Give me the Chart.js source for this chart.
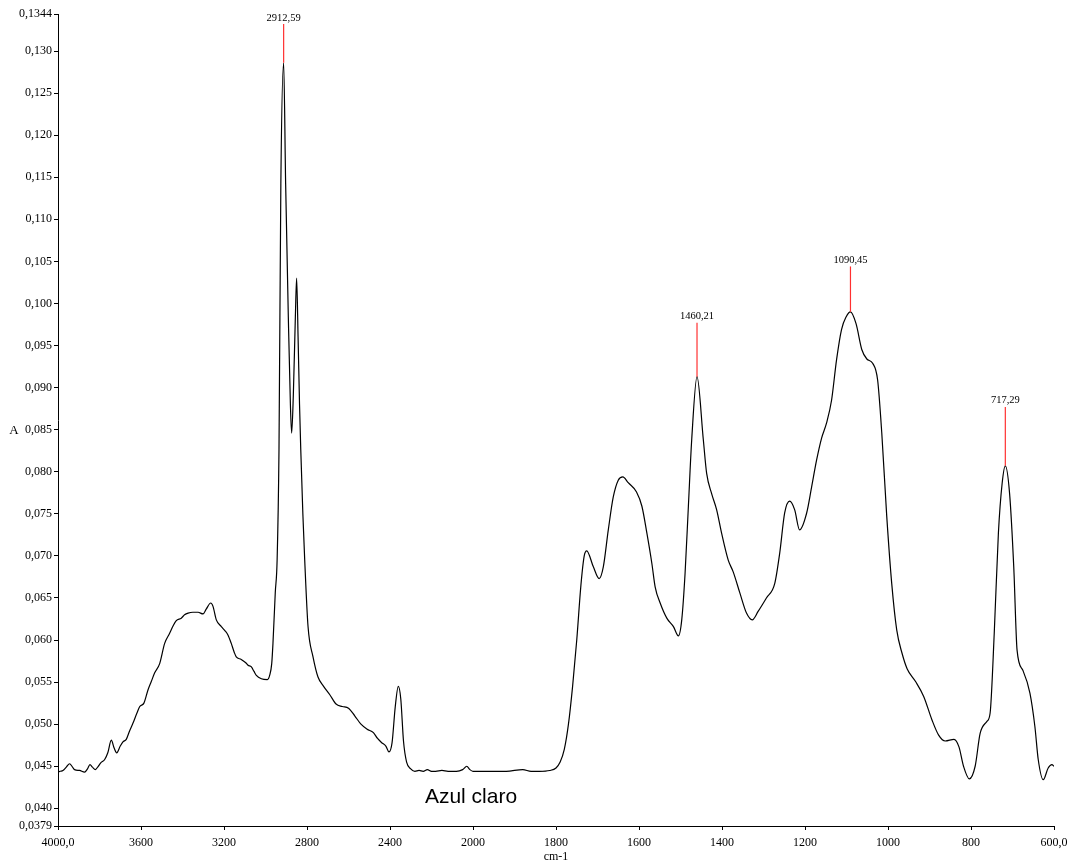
<!DOCTYPE html>
<html lang="pt">
<head>
<meta charset="UTF-8">
<title>Azul claro</title>
<script src="https://cdn.jsdelivr.net/npm/chart.js"></script>
<style>
  body { margin: 0; background: #fff; }
</style>
</head>
<body>
<canvas id="c" width="1076" height="866"></canvas>
<script>
// spectrum, wavenumber (cm-1) / absorbance
const wavenumbers = [
  4000, 3990, 3976, 3960, 3944, 3930, 3920, 3896, 3872, 3858, 3846, 3834, 3820, 3806, 3794, 3775,
  3760, 3743, 3730, 3717, 3700, 3687, 3671, 3655, 3639, 3620, 3606, 3586, 3566, 3550, 3534, 3510,
  3486, 3462, 3445, 3430, 3406, 3390, 3373, 3350, 3325, 3301, 3285, 3264, 3253, 3237, 3213, 3195,
  3181, 3165, 3150, 3141, 3117, 3095, 3084, 3068, 3056, 3044, 3020, 2991, 2980, 2970, 2964, 2953,
  2944, 2935, 2926, 2912.59, 2903, 2890, 2880, 2874, 2866, 2856, 2850, 2843, 2836, 2830, 2820, 2811,
  2795, 2771, 2747, 2720, 2690, 2660, 2630, 2600, 2570, 2540, 2510, 2480, 2460, 2440, 2420, 2405,
  2390, 2375, 2360, 2348, 2335, 2320, 2300, 2280, 2260, 2240, 2220, 2200, 2180, 2150, 2120, 2080,
  2050, 2030, 2015, 2000, 1960, 1920, 1880, 1860, 1840, 1815, 1800, 1790, 1780, 1770, 1760, 1750,
  1740, 1732, 1726, 1710, 1696, 1686, 1674, 1662, 1650, 1639, 1626, 1606, 1593, 1581, 1569, 1561,
  1549, 1533, 1517, 1505, 1497, 1489, 1481, 1473, 1460.21, 1445, 1437, 1425, 1413, 1401, 1385, 1373,
  1357, 1341, 1327, 1313, 1293, 1273, 1261, 1249, 1237, 1225, 1213, 1196, 1184, 1172, 1160, 1148,
  1136, 1124, 1112, 1101, 1090.45, 1077, 1063, 1051, 1037, 1025, 1015, 1003, 991, 979, 966, 954,
  934, 914, 894, 878, 862, 841, 829, 818, 804, 790, 778, 762, 754, 744, 734, 725,
  717.29, 707, 697, 689, 675, 658, 646, 638, 626, 614, 605, 600
];
const absorbance = [
  0.0443, 0.0444, 0.0445, 0.0449, 0.0453, 0.0449, 0.0446, 0.0445, 0.0443, 0.0447, 0.0452, 0.0449, 0.0446, 0.0450, 0.0454, 0.0458,
  0.0466, 0.0481, 0.0472, 0.0466, 0.0474, 0.0479, 0.0482, 0.0492, 0.0501, 0.0513, 0.0521, 0.0525, 0.0541, 0.0551, 0.0561, 0.0572,
  0.0596, 0.0608, 0.0617, 0.0623, 0.0626, 0.0630, 0.0632, 0.0633, 0.0633, 0.0631, 0.0637, 0.0644, 0.0640, 0.0624, 0.0616, 0.0611,
  0.0606, 0.0596, 0.0585, 0.0580, 0.0577, 0.0573, 0.0570, 0.0568, 0.0563, 0.0558, 0.0554, 0.0553, 0.0558, 0.0572, 0.0596, 0.0656,
  0.0695, 0.0826, 0.1143, 0.1286, 0.1143, 0.0984, 0.0880, 0.0846, 0.0890, 0.0985, 0.1030, 0.0960, 0.0880, 0.0826, 0.0750, 0.0695,
  0.0616, 0.0580, 0.0556, 0.0545, 0.0535, 0.0524, 0.0521, 0.0519, 0.0510, 0.0500, 0.0494, 0.0490, 0.0483, 0.0478, 0.0474, 0.0467,
  0.0478, 0.0520, 0.0545, 0.0530, 0.0480, 0.0455, 0.0447, 0.0444, 0.0445, 0.0444, 0.0446, 0.0444, 0.0444, 0.0445, 0.0444, 0.0444,
  0.0446, 0.0450, 0.0446, 0.0444, 0.0444, 0.0444, 0.0446, 0.0444, 0.0444, 0.0445, 0.0448, 0.0455, 0.0470, 0.0500, 0.0545, 0.0600,
  0.0665, 0.0700, 0.0706, 0.0687, 0.0673, 0.0687, 0.0731, 0.0770, 0.0790, 0.0794, 0.0787, 0.0776, 0.0759, 0.0727, 0.0691, 0.0663,
  0.0644, 0.0626, 0.0616, 0.0605, 0.0624, 0.0679, 0.0759, 0.0838, 0.0913, 0.0838, 0.0798, 0.0774, 0.0755, 0.0727, 0.0695, 0.0681,
  0.0656, 0.0632, 0.0624, 0.0634, 0.0650, 0.0667, 0.0703, 0.0751, 0.0765, 0.0755, 0.0731, 0.0751, 0.0782, 0.0814, 0.0840, 0.0858,
  0.0885, 0.0933, 0.0969, 0.0984, 0.0990, 0.0976, 0.0945, 0.0934, 0.0929, 0.0909, 0.0846, 0.0747, 0.0667, 0.0612, 0.0584, 0.0566,
  0.0551, 0.0533, 0.0505, 0.0487, 0.0480, 0.0482, 0.0473, 0.0450, 0.0435, 0.0450, 0.0489, 0.0503, 0.0513, 0.0608, 0.0727, 0.0786,
  0.0807, 0.0774, 0.0687, 0.0588, 0.0564, 0.0537, 0.0497, 0.0458, 0.0434, 0.0448, 0.0452, 0.0450
];

// labelled peaks and the absorbance at which each marker line ends
const peakX = [2912.59, 1460.21, 1090.45, 717.29];
const peakLabels = ['2912,59', '1460,21', '1090,45', '717,29'];
const peakTop = [0.1332, 0.0977, 0.1044, 0.0877];

const xTicks = [4000, 3600, 3200, 2800, 2400, 2000, 1800, 1600, 1400, 1200, 1000, 800, 600];
const xTickLabels = ['4000,0', '3600', '3200', '2800', '2400', '2000', '1800', '1600', '1400', '1200', '1000', '800', '600,0'];
const yTicks = [0.1344, 0.130, 0.125, 0.120, 0.115, 0.110, 0.105, 0.100, 0.095, 0.090, 0.085, 0.080,
  0.075, 0.070, 0.065, 0.060, 0.055, 0.050, 0.045, 0.040, 0.0379];
const yTickLabels = ['0,1344', '0,130', '0,125', '0,120', '0,115', '0,110', '0,105', '0,100', '0,095', '0,090',
  '0,085', '0,080', '0,075', '0,070', '0,065', '0,060', '0,055', '0,050', '0,045', '0,040', '0,0379'];

// wavenumber axis: below 2000 cm-1 the scale is stretched x2
const SPLIT = 2000;
const STRETCH = 2;

class SplitScale extends Chart.LinearScale {
  _units(v) {
    return v >= SPLIT ? this.max - v : (this.max - SPLIT) + (SPLIT - v) * STRETCH;
  }
  getPixelForValue(v) {
    return this.left + this.width * this._units(v) / this._units(this.min);
  }
  getValueForPixel(px) {
    const u = (px - this.left) / this.width * this._units(this.min);
    const hi = this.max - SPLIT;
    return u <= hi ? this.max - u : SPLIT - (u - hi) / STRETCH;
  }
}
SplitScale.id = 'split';
SplitScale.defaults = Chart.LinearScale.defaults;
Chart.register(SplitScale);

const serif = 'Liberation Serif';
Chart.defaults.font.family = serif;
Chart.defaults.color = '#000';

const peakMarks = {
  id: 'peakMarks',
  afterDatasetsDraw(chart) {
    const { ctx, scales: { x, y } } = chart;
    ctx.save();
    ctx.lineWidth = 1.2;
    ctx.font = '10.5px "' + serif + '"';
    ctx.textAlign = 'center';
    ctx.textBaseline = 'bottom';
    peakX.forEach((wn, i) => {
      const a = absorbance[wavenumbers.indexOf(wn)];
      const px = x.getPixelForValue(wn);
      const y0 = y.getPixelForValue(a);
      const y1 = y.getPixelForValue(peakTop[i]);
      ctx.strokeStyle = '#ff3030';
      ctx.beginPath();
      ctx.moveTo(px, y0);
      ctx.lineTo(px, y1);
      ctx.stroke();
      ctx.fillStyle = '#000';
      ctx.fillText(peakLabels[i], px, y1 - 1);
    });

    // axis titles and sample name
    ctx.textBaseline = 'middle';
    ctx.font = '13px "' + serif + '"';
    ctx.fillText('A', 14, 431);
    ctx.font = '12px "' + serif + '"';
    ctx.fillText('cm-1', 556, 857);
    ctx.font = '21px "Liberation Sans"';
    ctx.fillText('Azul claro', 471, 797);
    ctx.restore();
  }
};

new Chart(document.getElementById('c'), {
  type: 'line',
  data: {
    datasets: [{
      data: wavenumbers.map((w, i) => ({ x: w, y: absorbance[i] })),
      borderColor: '#000',
      borderWidth: 1.2,
      pointRadius: 0,
      cubicInterpolationMode: 'monotone',
      fill: false
    }]
  },
  options: {
    responsive: false,
    animation: false,
    events: [],
    layout: { padding: { left: 0, right: 22, top: 14, bottom: 0 } },
    plugins: { legend: { display: false }, tooltip: { enabled: false } },
    scales: {
      x: {
        type: 'split',
        min: 600,
        max: 4000,
        afterBuildTicks: s => { s.ticks = xTicks.map(value => ({ value })); },
        afterFit: s => { s.height = 40; },
        ticks: {
          autoSkip: false,
          maxRotation: 0,
          padding: 6,
          font: { size: 12 },
          callback: (v, i) => xTickLabels[i]
        },
        grid: { display: true, drawOnChartArea: false, drawTicks: true, tickLength: 4, color: '#000' },
        border: { display: true, color: '#000', width: 1 }
      },
      y: {
        type: 'linear',
        min: 0.0379,
        max: 0.1344,
        afterBuildTicks: s => { s.ticks = yTicks.map(value => ({ value })); },
        afterFit: s => { s.width = 58; },
        ticks: {
          autoSkip: false,
          padding: 2,
          font: { size: 12 },
          callback: (v, i) => yTickLabels[i]
        },
        grid: { display: true, drawOnChartArea: false, drawTicks: true, tickLength: 4, color: '#000' },
        border: { display: true, color: '#000', width: 1 }
      }
    }
  },
  plugins: [peakMarks]
});
</script>
</body>
</html>
